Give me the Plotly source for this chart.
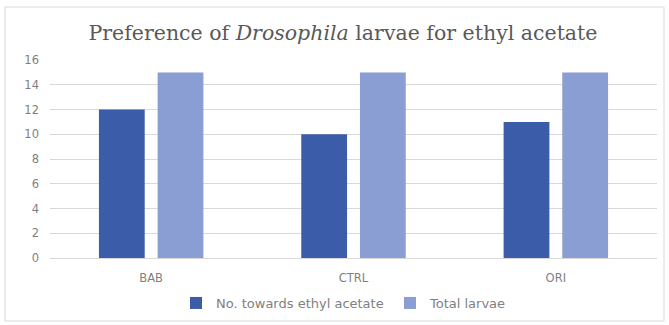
import plotly.graph_objects as go

categories = ["BAB", "CTRL", "ORI"]
towards = [12, 10, 11]
total = [15, 15, 15]
series_names = ["No. towards ethyl acetate", "Total larvae"]
y_ticks = [0, 2, 4, 6, 8, 10, 12, 14, 16]

fig = go.Figure()
fig.add_trace(go.Bar(x=categories, y=towards, name=series_names[0],
                     marker=dict(color="#3B5CA9", line=dict(width=0))))
fig.add_trace(go.Bar(x=categories, y=total, name=series_names[1],
                     marker=dict(color="#8A9ED3", line=dict(width=0))))

W, H = 669, 325
ml, mr, mt, mb = 50, 12, 60, 67
pw, ph = W - ml - mr, H - mt - mb

def px(x):
    return (x - ml) / pw

def py(y):
    return (H - mb - y) / ph

fig.update_layout(
    width=W, height=H,
    margin=dict(l=ml, r=mr, t=mt, b=mb),
    paper_bgcolor="white", plot_bgcolor="white",
    barmode="group", bargap=0.42, bargroupgap=0.22,
    title=dict(text="Preference of <i>Drosophila</i> larvae for ethyl acetate",
               x=343 / W, xanchor="center", y=1 - 33 / H, yanchor="middle",
               font=dict(family="DejaVu Serif", size=20.5, color="#595959")),
    font=dict(family="DejaVu Sans", color="#7F7F7F", size=11),
    showlegend=True,
    legend=dict(orientation="h", xref="container", yref="container",
                x=176 / W, xanchor="left", y=1 - 303 / H, yanchor="middle",
                bgcolor="rgba(0,0,0,0)", entrywidth=169, entrywidthmode="pixels",
                font=dict(size=13, color="#7F7F7F"), itemwidth=30),
    xaxis=dict(showgrid=False, showline=False, ticks="", ticklabelstandoff=11,
               automargin=False, tickfont=dict(size=11.5, color="#7F7F7F")),
    yaxis=dict(range=[0, 16], tickvals=y_ticks, showgrid=True, gridcolor="#D9D9D9",
               gridwidth=1, zeroline=True, zerolinecolor="#D9D9D9", zerolinewidth=1,
               showline=False, ticks="", ticklabelstandoff=10, automargin=False,
               tickfont=dict(size=11.5, color="#7F7F7F")),
    shapes=[dict(type="rect", xref="paper", yref="paper",
                 x0=px(5), x1=px(664), y0=py(321), y1=py(7),
                 line=dict(color="#D9D9D9", width=1), layer="below")],
)

fig.write_html("out.html")
